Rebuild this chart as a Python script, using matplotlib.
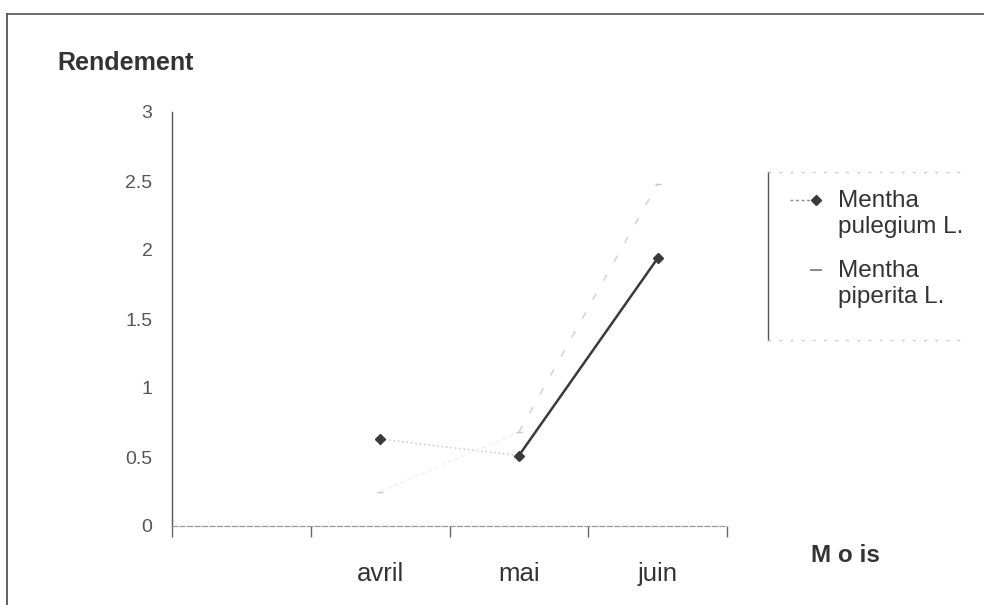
import numpy as np
import matplotlib
matplotlib.use("Agg")
import matplotlib.pyplot as plt
from matplotlib.collections import LineCollection
from matplotlib.lines import Line2D

plt.rcParams['font.family'] = ['Liberation Sans', 'DejaVu Sans']

# Data
months = ["", "avril", "mai", "juin"]
pulegium = [np.nan, 0.63, 0.51, 1.94]
piperita = [np.nan, 0.25, 0.68, 2.48]
y_ticks = [0, 0.5, 1, 1.5, 2, 2.5, 3]
y_tick_labels = ["0", "0.5", "1", "1.5", "2", "2.5", "3"]
series_names = ["Mentha\npulegium L.", "Mentha\npiperita L."]

W, H = 984, 605
fig = plt.figure(figsize=(W / 100, H / 100), dpi=100)
fig.patch.set_facecolor("white")

def fx(px):
    return px / W

def fy(py):
    return 1 - py / H

# Outer frame (left and top edges)
fig.add_artist(Line2D([fx(7), fx(7)], [fy(14), 0], color="#444444", lw=1.2))
fig.add_artist(Line2D([fx(7), 1], [fy(14), fy(14)], color="#555555", lw=1.2))

ax = fig.add_axes([fx(172), fy(526), fx(727 - 172), (526 - 112) / H])
x = np.arange(len(months))
ax.set_xlim(-0.5, len(months) - 0.5)
ax.set_ylim(0, 3)

for s in ["top", "right"]:
    ax.spines[s].set_visible(False)
ax.spines["left"].set_color("#555555")
ax.spines["left"].set_linewidth(1.0)
ax.spines["bottom"].set_color("#999999")
ax.spines["bottom"].set_linewidth(0.9)
ax.spines["bottom"].set_linestyle((0, (4, 2)))

ax.set_yticks(y_ticks)
ax.set_yticklabels(y_tick_labels, fontsize=14, color="#555555")
ax.tick_params(axis="y", length=0, pad=14)

ax.set_xticks(x)
ax.set_xticklabels(months, fontsize=18.5, color="#333333")
ax.tick_params(axis="x", length=0, pad=26)
ax.set_xticks(np.arange(len(months) + 1) - 0.5, minor=True)
ax.tick_params(axis="x", which="minor", length=8, width=1.0, color="#666666", direction="out")

# Mentha pulegium: segments styled individually
pts1 = np.column_stack([x, pulegium])
segs1 = [pts1[i:i + 2] for i in range(len(pts1) - 1)]
lc1 = LineCollection(segs1, colors=["#ffffff", "#d0d0d0", "#3a3a3a"],
                     linestyles=["-", ":", "-"], linewidths=[0, 1.2, 1.8])
ax.add_collection(lc1)
ax.plot(x, pulegium, linestyle="none", marker="D", markersize=5,
        color="#3a3a3a")

# Mentha piperita: faint dashed line
pts2 = np.column_stack([x, piperita])
segs2 = [pts2[i:i + 2] for i in range(len(pts2) - 1)]
lc2 = LineCollection(segs2, colors=["#ffffff", "#f2f2f2", "#d8d8d8"],
                     linestyles=["-", "--", (0, (4, 8))], linewidths=[0, 1.0, 1.3])
ax.add_collection(lc2)
ax.plot(x, piperita, linestyle="none", marker="_", markersize=5,
        color="#c8c8c8")

# Axis titles
fig.text(fx(57), fy(63), "Rendement", fontsize=18, fontweight="bold",
         color="#333333", ha="left", va="center")
fig.text(fx(845), fy(555), "M o is", fontsize=17.5, fontweight="bold",
         color="#333333", ha="center", va="center")

# Legend box
fig.add_artist(Line2D([fx(768), fx(768)], [fy(172), fy(340)], color="#555555", lw=1.0))
fig.add_artist(Line2D([fx(768), fx(965)], [fy(172), fy(172)], color="#cccccc",
                      lw=1.0, linestyle=(0, (2, 6))))
fig.add_artist(Line2D([fx(768), fx(965)], [fy(340), fy(340)], color="#cccccc",
                      lw=1.0, linestyle=(0, (2, 6))))

fig.add_artist(Line2D([fx(790), fx(814)], [fy(200), fy(200)], color="#888888",
                      lw=1.0, linestyle=(0, (2, 2))))
fig.add_artist(Line2D([fx(816)], [fy(200)], marker="D", markersize=5,
                      color="#3a3a3a", linestyle="none"))
fig.add_artist(Line2D([fx(811), fx(821)], [fy(270), fy(270)], color="#888888", lw=1.4))

fig.text(fx(838), fy(214), series_names[0], fontsize=17.5, color="#333333",
         ha="left", va="center", linespacing=1.2)
fig.text(fx(838), fy(284), series_names[1], fontsize=17.5, color="#333333",
         ha="left", va="center", linespacing=1.2)

fig.savefig("out.png", dpi=100, facecolor="white")
